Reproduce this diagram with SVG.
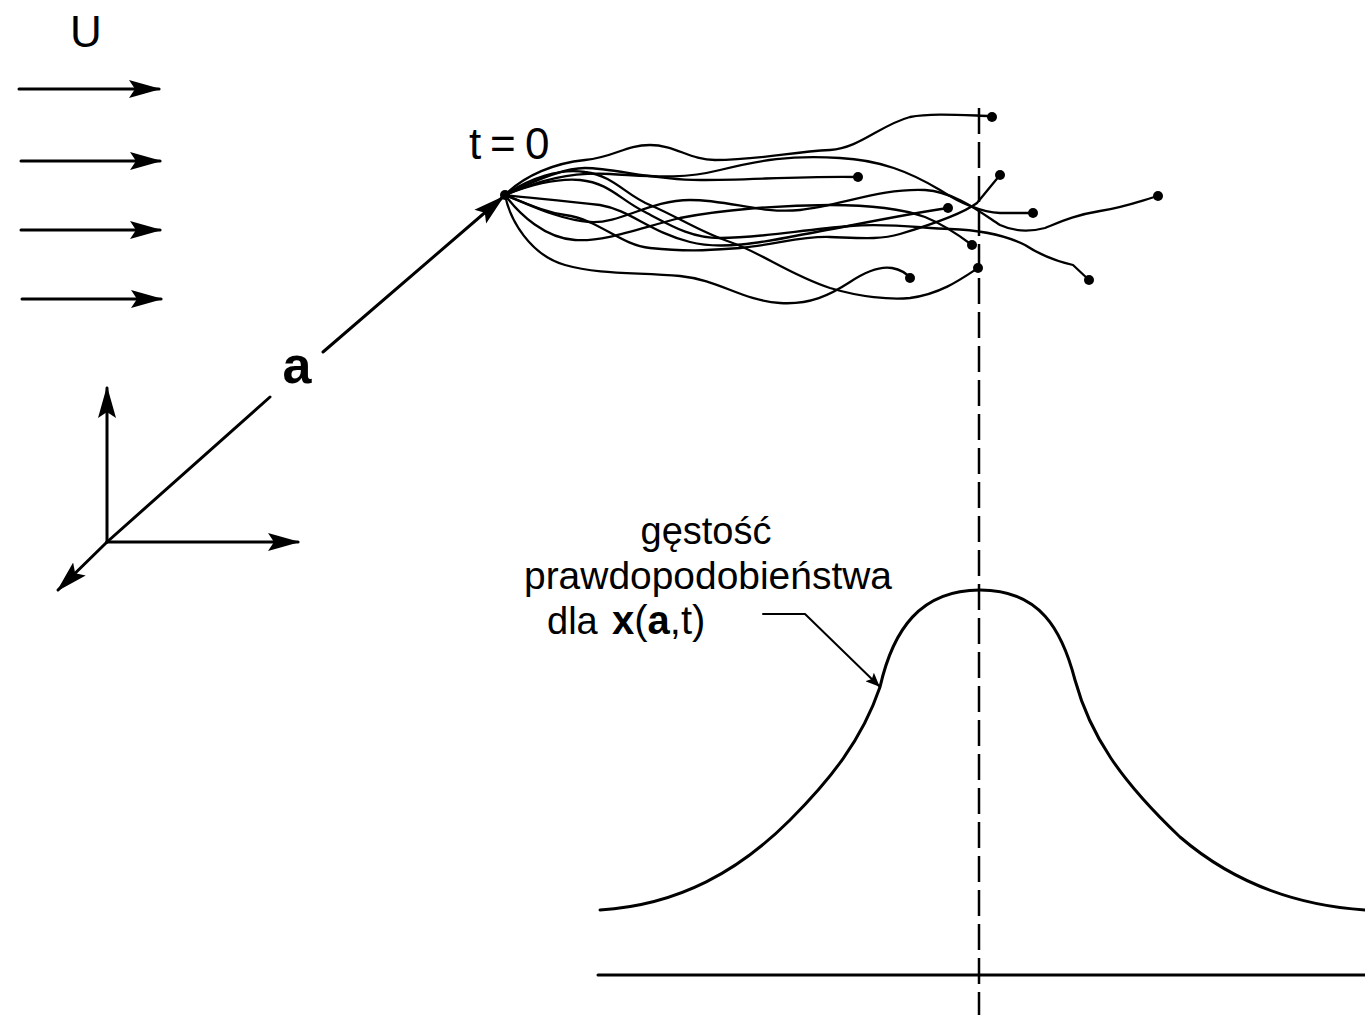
<svg xmlns="http://www.w3.org/2000/svg" width="1365" height="1015" viewBox="0 0 1365 1015">
<style>
  .ln{fill:none;stroke:#000;stroke-linecap:round;stroke-linejoin:round}
  .traj{fill:none;stroke:#000;stroke-width:2.3;stroke-linecap:round;stroke-linejoin:round}
  .dot{fill:#000}
  .txt{font-family:"Liberation Sans",Arial,sans-serif;fill:#000}
</style>
<defs>
  <marker id="ah" markerUnits="userSpaceOnUse" markerWidth="32" markerHeight="20" refX="30" refY="10" orient="auto" viewBox="0 0 32 20">
    <path d="M0,1 L32,10 L0,19 L6,10 z" fill="#000"/>
  </marker>
  <marker id="ahs" markerUnits="userSpaceOnUse" markerWidth="14" markerHeight="12" refX="13" refY="6" orient="auto" viewBox="0 0 14 12">
    <path d="M0,0 L14,6 L0,12 L3,6 z" fill="#000"/>
  </marker>
</defs>
<rect width="1365" height="1015" fill="#fff"/>

<g id="flow">
  <text class="txt" x="86" y="47" font-size="44" text-anchor="middle">U</text>
  <line class="ln" x1="19" y1="89" x2="159" y2="89" stroke-width="3" marker-end="url(#ah)"/>
  <line class="ln" x1="21" y1="161" x2="160" y2="161" stroke-width="3" marker-end="url(#ah)"/>
  <line class="ln" x1="21" y1="230" x2="160" y2="230" stroke-width="3" marker-end="url(#ah)"/>
  <line class="ln" x1="22" y1="299" x2="161" y2="299" stroke-width="3" marker-end="url(#ah)"/>
</g>

<g id="axes">
  <line class="ln" x1="107" y1="542" x2="107" y2="388" stroke-width="3" marker-end="url(#ah)"/>
  <line class="ln" x1="107" y1="542" x2="298" y2="542" stroke-width="3" marker-end="url(#ah)"/>
  <line class="ln" x1="107" y1="542" x2="58" y2="590" stroke-width="3" marker-end="url(#ah)"/>
</g>

<g id="vector-a">
  <line class="ln" x1="107" y1="542" x2="270" y2="397" stroke-width="3"/>
  <line class="ln" x1="323" y1="352" x2="503" y2="197" stroke-width="3" marker-end="url(#ah)"/>
  <text class="txt" x="297" y="383" font-size="52" font-weight="bold" text-anchor="middle">a</text>
</g>

<g id="start">
  <text class="txt" x="469 490 525" y="159" font-size="44">t=0</text>
  <circle class="dot" cx="505" cy="195" r="5"/>
</g>

<g id="trajectories">
  <path class="traj" d="M505,195 C525,175 555,163 585,160 C615,157 625,145 650,145 C675,145 690,160 715,160 C760,160 790,152 830,150 C860,148 880,125 910,117 C930,113 960,115 990,116"/>
  <path class="traj" d="M505,195 C525,185 560,168 585,168 C615,168 650,180 700,180 C750,180 800,176 858,177"/>
  <path class="traj" d="M505,195 C530,205 545,212 565,215 C600,220 620,245 650,248 C690,252 710,250 740,248 C780,244 800,236 830,237 C860,238 880,240 900,234 C940,222 965,212 977,203 L1000,175"/>
  <path class="traj" d="M505,195 C530,198 560,200 600,205 C630,210 650,232 690,242 C720,250 760,243 800,235 C840,228 900,215 948,208"/>
  <path class="traj" d="M505,195 C540,180 570,172 610,174 C650,176 680,180 720,170 C760,160 790,155 840,158 C880,160 910,172 940,190 C960,203 980,212 1000,213 L1033,213"/>
  <path class="traj" d="M505,195 C530,205 560,220 590,222 C620,224 650,200 690,200 C730,200 760,214 800,210 C840,206 880,188 925,190 C955,192 980,212 1000,225 C1015,232 1030,232 1045,228 C1060,222 1075,215 1100,211 C1125,207 1140,201 1158,196"/>
  <path class="traj" d="M505,195 C530,185 555,178 580,180 C610,183 620,200 645,212 C670,225 690,238 720,238 C760,238 800,230 850,226 C890,223 920,228 950,229 C980,230 1005,235 1025,245 C1040,255 1060,262 1073,265 L1089,280"/>
  <path class="traj" d="M505,195 C520,215 545,238 575,240 C605,242 640,228 680,218 C720,210 780,205 830,205 C870,205 900,208 925,217 C945,225 960,236 972,245"/>
  <path class="traj" d="M505,195 C530,178 560,168 585,172 C615,176 625,195 650,205 C680,218 700,232 730,242 C760,252 790,275 830,288 C860,297 890,300 910,298 C940,294 960,280 978,268"/>
  <path class="traj" d="M505,195 C510,220 530,255 565,265 C600,275 640,272 680,276 C720,280 740,300 780,303 C810,305 830,295 850,282 C865,272 880,266 892,268 C902,270 907,274 910,278"/>
  <circle class="dot" cx="992" cy="117" r="5"/>
  <circle class="dot" cx="858" cy="177" r="5"/>
  <circle class="dot" cx="1000" cy="175" r="5"/>
  <circle class="dot" cx="948" cy="208" r="5"/>
  <circle class="dot" cx="1033" cy="213" r="5"/>
  <circle class="dot" cx="1158" cy="196" r="5"/>
  <circle class="dot" cx="1089" cy="280" r="5"/>
  <circle class="dot" cx="972" cy="245" r="5"/>
  <circle class="dot" cx="978" cy="268" r="5"/>
  <circle class="dot" cx="910" cy="278" r="5"/>
</g>

<g id="dashed-line">
  <line x1="979" y1="108" x2="979" y2="1015" stroke="#000" stroke-width="2.5" stroke-dasharray="26 8"/>
</g>

<g id="density">
  <path class="ln" stroke-width="3" d="M600,910 C680,905 740,870 790,820 C830,780 862,740 880,687 C893,630 920,590 980,590 C1040,590 1062,630 1075,680 C1090,735 1120,780 1180,837 C1230,880 1290,905 1365,910"/>
  <line class="ln" x1="598" y1="975" x2="1365" y2="975" stroke-width="3"/>
</g>

<g id="label">
  <text class="txt" x="706" y="544" font-size="38" text-anchor="middle">gęstość</text>
  <text class="txt" x="524" y="589" font-size="38" textLength="368" lengthAdjust="spacingAndGlyphs">prawdopodobieństwa</text>
  <text class="txt" x="547" y="634" font-size="38">dla</text>
  <text class="txt" x="612" y="634" font-size="40"><tspan font-weight="bold">x</tspan>(<tspan font-weight="bold">a</tspan>,t)</text>
  <path class="ln" stroke-width="2" d="M763,614 L805,614 L879,686" marker-end="url(#ahs)"/>
</g>
</svg>
